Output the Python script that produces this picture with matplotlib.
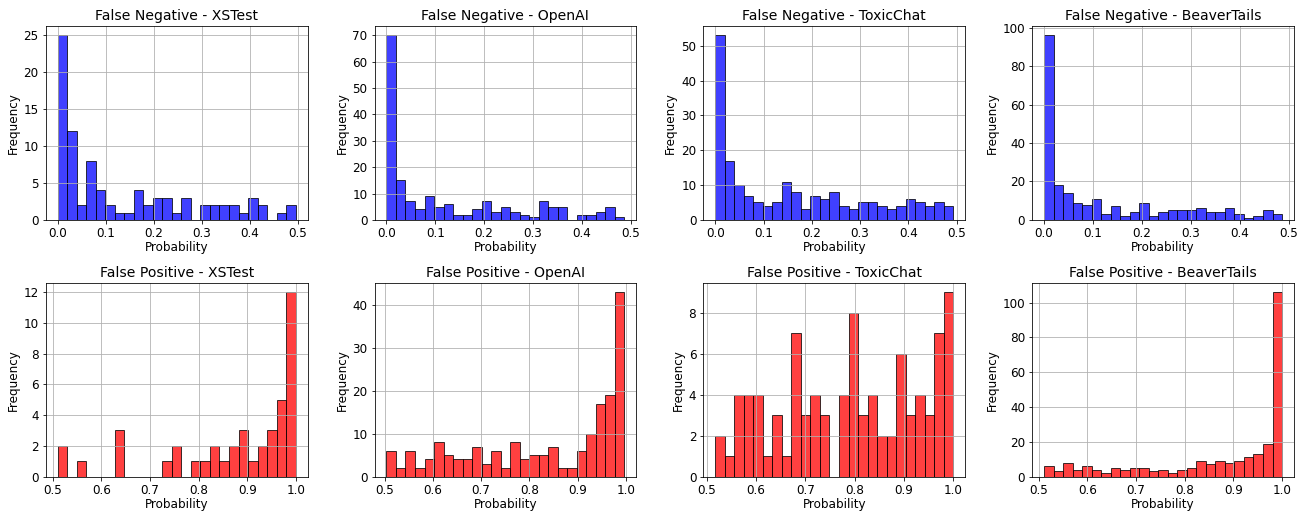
import numpy as np
import matplotlib
matplotlib.use("Agg")
import matplotlib.pyplot as plt

# ------------------------- data -------------------------
datasets = ["XSTest", "OpenAI", "ToxicChat", "BeaverTails"]

# bin ranges (min, max of the probabilities), 25 bins each
fn_ranges = [(0.0, 0.495), (0.0, 0.487), (0.0, 0.493), (0.0, 0.486)]
fp_ranges = [(0.510, 0.999), (0.504, 0.997), (0.517, 1.0), (0.511, 1.0)]

fn_xstest = [25, 12, 2, 8, 4, 2, 1, 1, 4, 2, 3, 3, 1, 3, 0, 2, 2, 2, 2, 1, 3, 2, 0, 1, 2]
fn_openai = [70, 15, 7, 4, 9, 5, 6, 2, 2, 4, 7, 3, 5, 3, 2, 1, 7, 5, 5, 0, 2, 2, 3, 5, 1]
fn_toxicchat = [53, 17, 10, 7, 5, 4, 5, 11, 8, 3, 7, 6, 8, 4, 3, 5, 5, 4, 3, 4, 6, 5, 4, 5, 4]
fn_beavertails = [96, 18, 14, 9, 8, 11, 3, 7, 2, 4, 9, 2, 4, 5, 5, 5, 6, 4, 4, 6, 3, 1, 2, 5, 3]

fp_xstest = [2, 0, 1, 0, 0, 0, 3, 0, 0, 0, 0, 1, 2, 0, 1, 1, 2, 1, 2, 3, 1, 2, 3, 5, 12]
fp_openai = [6, 2, 6, 2, 4, 8, 5, 4, 4, 7, 3, 6, 2, 8, 4, 5, 5, 7, 2, 2, 6, 10, 17, 19, 43]
fp_toxicchat = [2, 1, 4, 4, 4, 1, 3, 1, 7, 3, 4, 3, 0, 4, 8, 3, 4, 2, 2, 6, 3, 4, 3, 7, 9]
fp_beavertails = [6, 3, 8, 4, 6, 4, 2, 5, 4, 5, 5, 3, 4, 2, 4, 5, 9, 7, 9, 8, 9, 11, 13, 19, 106]

fn_counts = [fn_xstest, fn_openai, fn_toxicchat, fn_beavertails]
fp_counts = [fp_xstest, fp_openai, fp_toxicchat, fp_beavertails]

N_BINS = 25
DPI = 72
plt.rcParams["font.size"] = 12

# -------------------- visualizations ----------------------
fig, axes = plt.subplots(2, 4, figsize=(1307 / DPI, 513 / DPI), dpi=DPI)
fig.subplots_adjust(left=0.035, right=0.99, top=0.949, bottom=0.071,
                    wspace=0.256, hspace=0.325)

rows = [("False Negative", fn_counts, fn_ranges, "blue"),
        ("False Positive", fp_counts, fp_ranges, "red")]

for r, (kind, counts_list, ranges, color) in enumerate(rows):
    for c, name in enumerate(datasets):
        ax = axes[r, c]
        lo, hi = ranges[c]
        edges = np.linspace(lo, hi, N_BINS + 1)
        centers = (edges[:-1] + edges[1:]) / 2
        ax.hist(centers, bins=edges, weights=counts_list[c],
                color=color, alpha=0.75, edgecolor="black")
        ax.set_title(f"{kind} - {name}", fontsize=14)
        ax.set_xlabel("Probability", labelpad=1)
        ax.set_ylabel("Frequency")
        ax.grid(True)

plt.savefig("out.png", dpi=DPI)
plt.close()
